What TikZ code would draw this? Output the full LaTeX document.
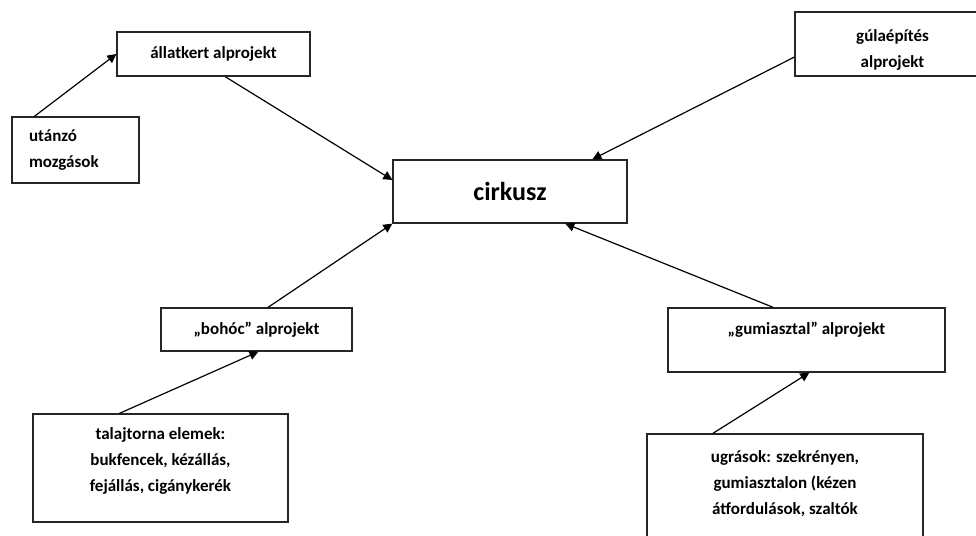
\documentclass[tikz,border=0pt]{standalone}
\usepackage{fontspec}
\setmainfont{Carlito}
\usetikzlibrary{calc,arrows.meta}
\begin{document}
\begin{tikzpicture}[x=1pt,y=-1pt,
  box/.style={draw=black!85, line width=1.3pt, rectangle, inner sep=0pt, align=center,
    font=\bfseries\fontsize{17}{26}\selectfont},
  conn/.style={line width=1.2pt, -{Triangle[length=9pt,width=9pt]}}]
\useasboundingbox (0,0) rectangle (976,535);
\fill[white] (0,0) rectangle (976,535);
\node[box, minimum width=193pt, minimum height=44pt] (allat) at (213.5,54) {állatkert alprojekt};
\node[box, minimum width=127pt, minimum height=66pt, text width=93pt, align=left] (utan) at (75.5,150) {utánzó\\mozgások};
\node[box, minimum width=195pt, minimum height=64pt] (gula) at (892.5,44) {\rule{0pt}{23pt}gúlaépítés\\alprojekt};
\node[box, minimum width=234pt, minimum height=63pt, font=\bfseries\fontsize{26}{28}\selectfont] (cirk) at (510,191.5) {cirkusz};
\node[box, minimum width=191pt, minimum height=43pt] (bohoc) at (256.5,329.5) {„bohóc” alprojekt};
\node[box, minimum width=277pt, minimum height=64pt, text depth=24pt] (gumi) at (806.5,340) {„gumiasztal” alprojekt};
\node[box, minimum width=255pt, minimum height=108pt, text depth=16pt] (talaj) at (160.5,468) {talajtorna elemek:\\bukfencek, kézállás,\\fejállás, cigánykerék};
\node[box, minimum width=276pt, minimum height=130pt, text depth=32pt] (ugras) at (785,499) {ugrások: szekrényen,\\gumiasztalon (kézen\\átfordulások, szaltók};
\draw[conn] ($(utan.north west)!0.18!(utan.north east)$) -- (allat.west);
\draw[conn] ($(allat.south west)!0.56!(allat.south east)$) -- ($(cirk.north west)!0.32!(cirk.south west)$);
\draw[conn] ($(gula.north west)!0.7!(gula.south west)$) -- ($(cirk.north west)!0.85!(cirk.north east)$);
\draw[conn] ($(bohoc.north west)!0.56!(bohoc.north east)$) -- (cirk.south west);
\draw[conn] ($(gumi.north west)!0.38!(gumi.north east)$) -- ($(cirk.south west)!0.735!(cirk.south east)$);
\draw[conn] ($(talaj.north west)!0.34!(talaj.north east)$) -- ($(bohoc.south west)!0.51!(bohoc.south east)$);
\draw[conn] ($(ugras.north west)!0.24!(ugras.north east)$) -- ($(gumi.south west)!0.51!(gumi.south east)$);
\end{tikzpicture}
\end{document}
